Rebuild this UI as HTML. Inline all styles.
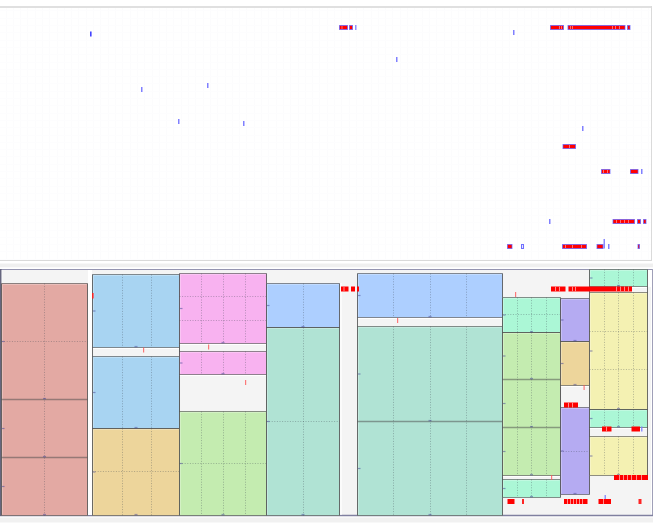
<!DOCTYPE html>
<html><head><meta charset="utf-8"><title>chart</title>
<style>html,body{margin:0;padding:0;background:#fff;width:653px;height:525px;overflow:hidden;font-family:"Liberation Sans",sans-serif} svg{display:block}</style>
</head><body><svg width="653" height="525" viewBox="0 0 653 525"><rect x="0" y="0" width="653" height="525" fill="#ffffff"/><line x1="6.5" y1="8" x2="6.5" y2="260" stroke="#fcfcfd" stroke-width="1"/><line x1="13.5" y1="8" x2="13.5" y2="260" stroke="#fcfcfd" stroke-width="1"/><line x1="20.5" y1="8" x2="20.5" y2="260" stroke="#fcfcfd" stroke-width="1"/><line x1="27.5" y1="8" x2="27.5" y2="260" stroke="#fcfcfd" stroke-width="1"/><line x1="35.5" y1="8" x2="35.5" y2="260" stroke="#fcfcfd" stroke-width="1"/><line x1="42.5" y1="8" x2="42.5" y2="260" stroke="#fcfcfd" stroke-width="1"/><line x1="49.5" y1="8" x2="49.5" y2="260" stroke="#fcfcfd" stroke-width="1"/><line x1="57.5" y1="8" x2="57.5" y2="260" stroke="#fcfcfd" stroke-width="1"/><line x1="64.5" y1="8" x2="64.5" y2="260" stroke="#fcfcfd" stroke-width="1"/><line x1="71.5" y1="8" x2="71.5" y2="260" stroke="#fcfcfd" stroke-width="1"/><line x1="78.5" y1="8" x2="78.5" y2="260" stroke="#fcfcfd" stroke-width="1"/><line x1="86.5" y1="8" x2="86.5" y2="260" stroke="#fcfcfd" stroke-width="1"/><line x1="93.5" y1="8" x2="93.5" y2="260" stroke="#fcfcfd" stroke-width="1"/><line x1="100.5" y1="8" x2="100.5" y2="260" stroke="#fcfcfd" stroke-width="1"/><line x1="108.5" y1="8" x2="108.5" y2="260" stroke="#fcfcfd" stroke-width="1"/><line x1="115.5" y1="8" x2="115.5" y2="260" stroke="#fcfcfd" stroke-width="1"/><line x1="122.5" y1="8" x2="122.5" y2="260" stroke="#fcfcfd" stroke-width="1"/><line x1="130.5" y1="8" x2="130.5" y2="260" stroke="#fcfcfd" stroke-width="1"/><line x1="137.5" y1="8" x2="137.5" y2="260" stroke="#fcfcfd" stroke-width="1"/><line x1="144.5" y1="8" x2="144.5" y2="260" stroke="#fcfcfd" stroke-width="1"/><line x1="152.5" y1="8" x2="152.5" y2="260" stroke="#fcfcfd" stroke-width="1"/><line x1="159.5" y1="8" x2="159.5" y2="260" stroke="#fcfcfd" stroke-width="1"/><line x1="166.5" y1="8" x2="166.5" y2="260" stroke="#fcfcfd" stroke-width="1"/><line x1="173.5" y1="8" x2="173.5" y2="260" stroke="#fcfcfd" stroke-width="1"/><line x1="181.5" y1="8" x2="181.5" y2="260" stroke="#fcfcfd" stroke-width="1"/><line x1="188.5" y1="8" x2="188.5" y2="260" stroke="#fcfcfd" stroke-width="1"/><line x1="195.5" y1="8" x2="195.5" y2="260" stroke="#fcfcfd" stroke-width="1"/><line x1="203.5" y1="8" x2="203.5" y2="260" stroke="#fcfcfd" stroke-width="1"/><line x1="210.5" y1="8" x2="210.5" y2="260" stroke="#fcfcfd" stroke-width="1"/><line x1="217.5" y1="8" x2="217.5" y2="260" stroke="#fcfcfd" stroke-width="1"/><line x1="225.5" y1="8" x2="225.5" y2="260" stroke="#fcfcfd" stroke-width="1"/><line x1="232.5" y1="8" x2="232.5" y2="260" stroke="#fcfcfd" stroke-width="1"/><line x1="239.5" y1="8" x2="239.5" y2="260" stroke="#fcfcfd" stroke-width="1"/><line x1="246.5" y1="8" x2="246.5" y2="260" stroke="#fcfcfd" stroke-width="1"/><line x1="254.5" y1="8" x2="254.5" y2="260" stroke="#fcfcfd" stroke-width="1"/><line x1="261.5" y1="8" x2="261.5" y2="260" stroke="#fcfcfd" stroke-width="1"/><line x1="268.5" y1="8" x2="268.5" y2="260" stroke="#fcfcfd" stroke-width="1"/><line x1="276.5" y1="8" x2="276.5" y2="260" stroke="#fcfcfd" stroke-width="1"/><line x1="283.5" y1="8" x2="283.5" y2="260" stroke="#fcfcfd" stroke-width="1"/><line x1="290.5" y1="8" x2="290.5" y2="260" stroke="#fcfcfd" stroke-width="1"/><line x1="298.5" y1="8" x2="298.5" y2="260" stroke="#fcfcfd" stroke-width="1"/><line x1="305.5" y1="8" x2="305.5" y2="260" stroke="#fcfcfd" stroke-width="1"/><line x1="312.5" y1="8" x2="312.5" y2="260" stroke="#fcfcfd" stroke-width="1"/><line x1="319.5" y1="8" x2="319.5" y2="260" stroke="#fcfcfd" stroke-width="1"/><line x1="327.5" y1="8" x2="327.5" y2="260" stroke="#fcfcfd" stroke-width="1"/><line x1="334.5" y1="8" x2="334.5" y2="260" stroke="#fcfcfd" stroke-width="1"/><line x1="341.5" y1="8" x2="341.5" y2="260" stroke="#fcfcfd" stroke-width="1"/><line x1="349.5" y1="8" x2="349.5" y2="260" stroke="#fcfcfd" stroke-width="1"/><line x1="356.5" y1="8" x2="356.5" y2="260" stroke="#fcfcfd" stroke-width="1"/><line x1="363.5" y1="8" x2="363.5" y2="260" stroke="#fcfcfd" stroke-width="1"/><line x1="371.5" y1="8" x2="371.5" y2="260" stroke="#fcfcfd" stroke-width="1"/><line x1="378.5" y1="8" x2="378.5" y2="260" stroke="#fcfcfd" stroke-width="1"/><line x1="385.5" y1="8" x2="385.5" y2="260" stroke="#fcfcfd" stroke-width="1"/><line x1="392.5" y1="8" x2="392.5" y2="260" stroke="#fcfcfd" stroke-width="1"/><line x1="400.5" y1="8" x2="400.5" y2="260" stroke="#fcfcfd" stroke-width="1"/><line x1="407.5" y1="8" x2="407.5" y2="260" stroke="#fcfcfd" stroke-width="1"/><line x1="414.5" y1="8" x2="414.5" y2="260" stroke="#fcfcfd" stroke-width="1"/><line x1="422.5" y1="8" x2="422.5" y2="260" stroke="#fcfcfd" stroke-width="1"/><line x1="429.5" y1="8" x2="429.5" y2="260" stroke="#fcfcfd" stroke-width="1"/><line x1="436.5" y1="8" x2="436.5" y2="260" stroke="#fcfcfd" stroke-width="1"/><line x1="444.5" y1="8" x2="444.5" y2="260" stroke="#fcfcfd" stroke-width="1"/><line x1="451.5" y1="8" x2="451.5" y2="260" stroke="#fcfcfd" stroke-width="1"/><line x1="458.5" y1="8" x2="458.5" y2="260" stroke="#fcfcfd" stroke-width="1"/><line x1="465.5" y1="8" x2="465.5" y2="260" stroke="#fcfcfd" stroke-width="1"/><line x1="473.5" y1="8" x2="473.5" y2="260" stroke="#fcfcfd" stroke-width="1"/><line x1="480.5" y1="8" x2="480.5" y2="260" stroke="#fcfcfd" stroke-width="1"/><line x1="487.5" y1="8" x2="487.5" y2="260" stroke="#fcfcfd" stroke-width="1"/><line x1="495.5" y1="8" x2="495.5" y2="260" stroke="#fcfcfd" stroke-width="1"/><line x1="502.5" y1="8" x2="502.5" y2="260" stroke="#fcfcfd" stroke-width="1"/><line x1="509.5" y1="8" x2="509.5" y2="260" stroke="#fcfcfd" stroke-width="1"/><line x1="517.5" y1="8" x2="517.5" y2="260" stroke="#fcfcfd" stroke-width="1"/><line x1="524.5" y1="8" x2="524.5" y2="260" stroke="#fcfcfd" stroke-width="1"/><line x1="531.5" y1="8" x2="531.5" y2="260" stroke="#fcfcfd" stroke-width="1"/><line x1="538.5" y1="8" x2="538.5" y2="260" stroke="#fcfcfd" stroke-width="1"/><line x1="546.5" y1="8" x2="546.5" y2="260" stroke="#fcfcfd" stroke-width="1"/><line x1="553.5" y1="8" x2="553.5" y2="260" stroke="#fcfcfd" stroke-width="1"/><line x1="560.5" y1="8" x2="560.5" y2="260" stroke="#fcfcfd" stroke-width="1"/><line x1="568.5" y1="8" x2="568.5" y2="260" stroke="#fcfcfd" stroke-width="1"/><line x1="575.5" y1="8" x2="575.5" y2="260" stroke="#fcfcfd" stroke-width="1"/><line x1="582.5" y1="8" x2="582.5" y2="260" stroke="#fcfcfd" stroke-width="1"/><line x1="590.5" y1="8" x2="590.5" y2="260" stroke="#fcfcfd" stroke-width="1"/><line x1="597.5" y1="8" x2="597.5" y2="260" stroke="#fcfcfd" stroke-width="1"/><line x1="604.5" y1="8" x2="604.5" y2="260" stroke="#fcfcfd" stroke-width="1"/><line x1="611.5" y1="8" x2="611.5" y2="260" stroke="#fcfcfd" stroke-width="1"/><line x1="619.5" y1="8" x2="619.5" y2="260" stroke="#fcfcfd" stroke-width="1"/><line x1="626.5" y1="8" x2="626.5" y2="260" stroke="#fcfcfd" stroke-width="1"/><line x1="633.5" y1="8" x2="633.5" y2="260" stroke="#fcfcfd" stroke-width="1"/><line x1="641.5" y1="8" x2="641.5" y2="260" stroke="#fcfcfd" stroke-width="1"/><line x1="648.5" y1="8" x2="648.5" y2="260" stroke="#fcfcfd" stroke-width="1"/><line x1="0" y1="10.5" x2="651" y2="10.5" stroke="#fdfdfe" stroke-width="1"/><line x1="0" y1="18.5" x2="651" y2="18.5" stroke="#fdfdfe" stroke-width="1"/><line x1="0" y1="25.5" x2="651" y2="25.5" stroke="#fdfdfe" stroke-width="1"/><line x1="0" y1="32.5" x2="651" y2="32.5" stroke="#fdfdfe" stroke-width="1"/><line x1="0" y1="40.5" x2="651" y2="40.5" stroke="#fdfdfe" stroke-width="1"/><line x1="0" y1="47.5" x2="651" y2="47.5" stroke="#fdfdfe" stroke-width="1"/><line x1="0" y1="54.5" x2="651" y2="54.5" stroke="#fdfdfe" stroke-width="1"/><line x1="0" y1="62.5" x2="651" y2="62.5" stroke="#fdfdfe" stroke-width="1"/><line x1="0" y1="69.5" x2="651" y2="69.5" stroke="#fdfdfe" stroke-width="1"/><line x1="0" y1="76.5" x2="651" y2="76.5" stroke="#fdfdfe" stroke-width="1"/><line x1="0" y1="83.5" x2="651" y2="83.5" stroke="#fdfdfe" stroke-width="1"/><line x1="0" y1="91.5" x2="651" y2="91.5" stroke="#fdfdfe" stroke-width="1"/><line x1="0" y1="98.5" x2="651" y2="98.5" stroke="#fdfdfe" stroke-width="1"/><line x1="0" y1="105.5" x2="651" y2="105.5" stroke="#fdfdfe" stroke-width="1"/><line x1="0" y1="113.5" x2="651" y2="113.5" stroke="#fdfdfe" stroke-width="1"/><line x1="0" y1="120.5" x2="651" y2="120.5" stroke="#fdfdfe" stroke-width="1"/><line x1="0" y1="127.5" x2="651" y2="127.5" stroke="#fdfdfe" stroke-width="1"/><line x1="0" y1="135.5" x2="651" y2="135.5" stroke="#fdfdfe" stroke-width="1"/><line x1="0" y1="142.5" x2="651" y2="142.5" stroke="#fdfdfe" stroke-width="1"/><line x1="0" y1="149.5" x2="651" y2="149.5" stroke="#fdfdfe" stroke-width="1"/><line x1="0" y1="156.5" x2="651" y2="156.5" stroke="#fdfdfe" stroke-width="1"/><line x1="0" y1="164.5" x2="651" y2="164.5" stroke="#fdfdfe" stroke-width="1"/><line x1="0" y1="171.5" x2="651" y2="171.5" stroke="#fdfdfe" stroke-width="1"/><line x1="0" y1="178.5" x2="651" y2="178.5" stroke="#fdfdfe" stroke-width="1"/><line x1="0" y1="186.5" x2="651" y2="186.5" stroke="#fdfdfe" stroke-width="1"/><line x1="0" y1="193.5" x2="651" y2="193.5" stroke="#fdfdfe" stroke-width="1"/><line x1="0" y1="200.5" x2="651" y2="200.5" stroke="#fdfdfe" stroke-width="1"/><line x1="0" y1="208.5" x2="651" y2="208.5" stroke="#fdfdfe" stroke-width="1"/><line x1="0" y1="215.5" x2="651" y2="215.5" stroke="#fdfdfe" stroke-width="1"/><line x1="0" y1="222.5" x2="651" y2="222.5" stroke="#fdfdfe" stroke-width="1"/><line x1="0" y1="230.5" x2="651" y2="230.5" stroke="#fdfdfe" stroke-width="1"/><line x1="0" y1="237.5" x2="651" y2="237.5" stroke="#fdfdfe" stroke-width="1"/><line x1="0" y1="244.5" x2="651" y2="244.5" stroke="#fdfdfe" stroke-width="1"/><line x1="0" y1="251.5" x2="651" y2="251.5" stroke="#fdfdfe" stroke-width="1"/><line x1="0" y1="259.5" x2="651" y2="259.5" stroke="#fdfdfe" stroke-width="1"/><line x1="0" y1="7" x2="652" y2="7" stroke="#e0e0e0" stroke-width="2"/><line x1="651.5" y1="6" x2="651.5" y2="261" stroke="#dadada" stroke-width="1"/><line x1="0" y1="260.5" x2="652" y2="260.5" stroke="#d9d9d9" stroke-width="1"/><rect x="0" y="263.5" width="653" height="4.0" fill="#efefef"/><line x1="0" y1="267.5" x2="653" y2="267.5" stroke="#fafafa" stroke-width="1"/><rect x="0" y="269" width="652" height="247" fill="#f4f4f4"/><line x1="0" y1="269.5" x2="653" y2="269.5" stroke="#9494b0" stroke-width="1"/><line x1="652.5" y1="269" x2="652.5" y2="516" stroke="#a0a0b8" stroke-width="1"/><line x1="651.5" y1="270" x2="651.5" y2="515" stroke="#ffffff" stroke-width="1"/><line x1="0" y1="515.5" x2="653" y2="515.5" stroke="#8080a0" stroke-width="1.4"/><line x1="0.8" y1="269" x2="0.8" y2="516" stroke="#66667e" stroke-width="1.6"/><line x1="2" y1="270" x2="2" y2="515" stroke="#ffffff" stroke-width="0.8" stroke-opacity="0.6"/><rect x="0" y="517.5" width="653" height="5.0" fill="#f1f1f1"/><rect x="88" y="270" width="4" height="245" fill="#ffffff"/><rect x="340" y="283" width="2" height="232" fill="#ffffff" fill-opacity="0.6"/><rect x="1.5" y="283.5" width="86.0" height="232.0" fill="#f4f4f4"/><rect x="1.5" y="283.5" width="86.0" height="232.0" fill="#e3a9a3"/><line x1="2.5" y1="284.5" x2="86.5" y2="284.5" stroke="#ffffff" stroke-width="1" stroke-opacity="0.25"/><line x1="2.5" y1="284.5" x2="2.5" y2="514.5" stroke="#ffffff" stroke-width="1" stroke-opacity="0.25"/><line x1="44.5" y1="283.5" x2="44.5" y2="515.5" stroke="#3c4650" stroke-width="1" stroke-dasharray="1,1.6" stroke-opacity="0.35"/><line x1="1.5" y1="341.5" x2="87.5" y2="341.5" stroke="#3c4650" stroke-width="1" stroke-dasharray="1,1.6" stroke-opacity="0.35"/><line x1="1.5" y1="399.5" x2="87.5" y2="399.5" stroke="#4a4a4a" stroke-width="1.4" stroke-opacity="0.5"/><line x1="1.5" y1="457.5" x2="87.5" y2="457.5" stroke="#4a4a4a" stroke-width="1.4" stroke-opacity="0.5"/><line x1="1.5" y1="283.5" x2="87.5" y2="283.5" stroke="#4a4a4a" stroke-width="1" stroke-opacity="0.6"/><line x1="1.5" y1="515.5" x2="87.5" y2="515.5" stroke="#4a4a4a" stroke-width="1" stroke-opacity="0.6"/><rect x="2.0" y="340.9" width="2.5" height="1.2" fill="#4a4a9a" fill-opacity="0.55"/><rect x="43.0" y="397.9" width="3.0" height="1.4" fill="#4a4a9a" fill-opacity="0.5"/><rect x="2.0" y="427.9" width="2.5" height="1.2" fill="#4a4a9a" fill-opacity="0.55"/><rect x="43.0" y="455.9" width="3.0" height="1.4" fill="#4a4a9a" fill-opacity="0.5"/><rect x="2.0" y="485.9" width="2.5" height="1.2" fill="#4a4a9a" fill-opacity="0.55"/><rect x="43.0" y="513.9" width="3.0" height="1.4" fill="#4a4a9a" fill-opacity="0.5"/><line x1="1.5" y1="283.5" x2="1.5" y2="515.5" stroke="#4a4a4a" stroke-width="1" stroke-opacity="0.8"/><line x1="87.5" y1="283.5" x2="87.5" y2="515.5" stroke="#4a4a4a" stroke-width="1" stroke-opacity="0.8"/><rect x="92.5" y="274.5" width="87.0" height="241.0" fill="#f4f4f4"/><line x1="92.5" y1="348.5" x2="179.5" y2="348.5" stroke="#ffffff" stroke-width="1"/><rect x="92.5" y="274.5" width="87.0" height="73.0" fill="#a8d4f2"/><line x1="93.5" y1="275.5" x2="178.5" y2="275.5" stroke="#ffffff" stroke-width="1" stroke-opacity="0.25"/><line x1="93.5" y1="275.5" x2="93.5" y2="346.5" stroke="#ffffff" stroke-width="1" stroke-opacity="0.25"/><line x1="122.5" y1="274.5" x2="122.5" y2="347.5" stroke="#3c4650" stroke-width="1" stroke-dasharray="1,1.6" stroke-opacity="0.35"/><line x1="151.5" y1="274.5" x2="151.5" y2="347.5" stroke="#3c4650" stroke-width="1" stroke-dasharray="1,1.6" stroke-opacity="0.35"/><rect x="92.5" y="356.5" width="87.0" height="72.0" fill="#a8d4f2"/><line x1="93.5" y1="357.5" x2="178.5" y2="357.5" stroke="#ffffff" stroke-width="1" stroke-opacity="0.25"/><line x1="93.5" y1="357.5" x2="93.5" y2="427.5" stroke="#ffffff" stroke-width="1" stroke-opacity="0.25"/><line x1="122.5" y1="356.5" x2="122.5" y2="428.5" stroke="#3c4650" stroke-width="1" stroke-dasharray="1,1.6" stroke-opacity="0.35"/><line x1="151.5" y1="356.5" x2="151.5" y2="428.5" stroke="#3c4650" stroke-width="1" stroke-dasharray="1,1.6" stroke-opacity="0.35"/><rect x="92.5" y="428.5" width="87.0" height="87.0" fill="#edd59b"/><line x1="93.5" y1="429.5" x2="178.5" y2="429.5" stroke="#ffffff" stroke-width="1" stroke-opacity="0.25"/><line x1="93.5" y1="429.5" x2="93.5" y2="514.5" stroke="#ffffff" stroke-width="1" stroke-opacity="0.25"/><line x1="122.5" y1="428.5" x2="122.5" y2="515.5" stroke="#3c4650" stroke-width="1" stroke-dasharray="1,1.6" stroke-opacity="0.35"/><line x1="151.5" y1="428.5" x2="151.5" y2="515.5" stroke="#3c4650" stroke-width="1" stroke-dasharray="1,1.6" stroke-opacity="0.35"/><line x1="92.5" y1="471.5" x2="179.5" y2="471.5" stroke="#3c4650" stroke-width="1" stroke-dasharray="1,1.6" stroke-opacity="0.35"/><line x1="92.5" y1="274.5" x2="179.5" y2="274.5" stroke="#4a4a4a" stroke-width="1" stroke-opacity="0.6"/><line x1="92.5" y1="347.5" x2="179.5" y2="347.5" stroke="#4a4a4a" stroke-width="1" stroke-opacity="0.6"/><line x1="92.5" y1="356.5" x2="179.5" y2="356.5" stroke="#4a4a4a" stroke-width="1" stroke-opacity="0.6"/><line x1="92.5" y1="428.5" x2="179.5" y2="428.5" stroke="#4a4a4a" stroke-width="1" stroke-opacity="0.6"/><line x1="92.5" y1="428.5" x2="179.5" y2="428.5" stroke="#4a4a4a" stroke-width="1" stroke-opacity="0.6"/><line x1="92.5" y1="515.5" x2="179.5" y2="515.5" stroke="#4a4a4a" stroke-width="1" stroke-opacity="0.6"/><rect x="93.0" y="310.4" width="2.5" height="1.2" fill="#4a4a9a" fill-opacity="0.55"/><rect x="134.5" y="345.9" width="3.0" height="1.4" fill="#4a4a9a" fill-opacity="0.5"/><rect x="93.0" y="391.9" width="2.5" height="1.2" fill="#4a4a9a" fill-opacity="0.55"/><rect x="134.5" y="426.9" width="3.0" height="1.4" fill="#4a4a9a" fill-opacity="0.5"/><rect x="93.0" y="471.4" width="2.5" height="1.2" fill="#4a4a9a" fill-opacity="0.55"/><rect x="134.5" y="513.9" width="3.0" height="1.4" fill="#4a4a9a" fill-opacity="0.5"/><line x1="92.5" y1="274.5" x2="92.5" y2="515.5" stroke="#4a4a4a" stroke-width="1" stroke-opacity="0.8"/><line x1="179.5" y1="274.5" x2="179.5" y2="515.5" stroke="#4a4a4a" stroke-width="1" stroke-opacity="0.8"/><rect x="179.5" y="273.5" width="87.0" height="242.0" fill="#f4f4f4"/><line x1="179.5" y1="344.5" x2="266.5" y2="344.5" stroke="#ffffff" stroke-width="1"/><line x1="179.5" y1="375.5" x2="266.5" y2="375.5" stroke="#ffffff" stroke-width="1"/><rect x="179.5" y="273.5" width="87.0" height="70.0" fill="#f8b2f0"/><line x1="180.5" y1="274.5" x2="265.5" y2="274.5" stroke="#ffffff" stroke-width="1" stroke-opacity="0.25"/><line x1="180.5" y1="274.5" x2="180.5" y2="342.5" stroke="#ffffff" stroke-width="1" stroke-opacity="0.25"/><line x1="201.5" y1="273.5" x2="201.5" y2="343.5" stroke="#3c4650" stroke-width="1" stroke-dasharray="1,1.6" stroke-opacity="0.35"/><line x1="223.5" y1="273.5" x2="223.5" y2="343.5" stroke="#3c4650" stroke-width="1" stroke-dasharray="1,1.6" stroke-opacity="0.35"/><line x1="245.5" y1="273.5" x2="245.5" y2="343.5" stroke="#3c4650" stroke-width="1" stroke-dasharray="1,1.6" stroke-opacity="0.35"/><line x1="179.5" y1="296.5" x2="266.5" y2="296.5" stroke="#3c4650" stroke-width="1" stroke-dasharray="1,1.6" stroke-opacity="0.35"/><line x1="179.5" y1="320.5" x2="266.5" y2="320.5" stroke="#3c4650" stroke-width="1" stroke-dasharray="1,1.6" stroke-opacity="0.35"/><rect x="179.5" y="351.5" width="87.0" height="23.0" fill="#f8b2f0"/><line x1="180.5" y1="352.5" x2="265.5" y2="352.5" stroke="#ffffff" stroke-width="1" stroke-opacity="0.25"/><line x1="180.5" y1="352.5" x2="180.5" y2="373.5" stroke="#ffffff" stroke-width="1" stroke-opacity="0.25"/><line x1="201.5" y1="351.5" x2="201.5" y2="374.5" stroke="#3c4650" stroke-width="1" stroke-dasharray="1,1.6" stroke-opacity="0.35"/><line x1="223.5" y1="351.5" x2="223.5" y2="374.5" stroke="#3c4650" stroke-width="1" stroke-dasharray="1,1.6" stroke-opacity="0.35"/><line x1="245.5" y1="351.5" x2="245.5" y2="374.5" stroke="#3c4650" stroke-width="1" stroke-dasharray="1,1.6" stroke-opacity="0.35"/><rect x="179.5" y="411.5" width="87.0" height="104.0" fill="#c4ecb0"/><line x1="180.5" y1="412.5" x2="265.5" y2="412.5" stroke="#ffffff" stroke-width="1" stroke-opacity="0.25"/><line x1="180.5" y1="412.5" x2="180.5" y2="514.5" stroke="#ffffff" stroke-width="1" stroke-opacity="0.25"/><line x1="201.5" y1="411.5" x2="201.5" y2="515.5" stroke="#3c4650" stroke-width="1" stroke-dasharray="1,1.6" stroke-opacity="0.35"/><line x1="223.5" y1="411.5" x2="223.5" y2="515.5" stroke="#3c4650" stroke-width="1" stroke-dasharray="1,1.6" stroke-opacity="0.35"/><line x1="245.5" y1="411.5" x2="245.5" y2="515.5" stroke="#3c4650" stroke-width="1" stroke-dasharray="1,1.6" stroke-opacity="0.35"/><line x1="179.5" y1="463.5" x2="266.5" y2="463.5" stroke="#3c4650" stroke-width="1" stroke-dasharray="1,1.6" stroke-opacity="0.35"/><line x1="179.5" y1="273.5" x2="266.5" y2="273.5" stroke="#4a4a4a" stroke-width="1" stroke-opacity="0.6"/><line x1="179.5" y1="343.5" x2="266.5" y2="343.5" stroke="#4a4a4a" stroke-width="1" stroke-opacity="0.6"/><line x1="179.5" y1="351.5" x2="266.5" y2="351.5" stroke="#4a4a4a" stroke-width="1" stroke-opacity="0.6"/><line x1="179.5" y1="374.5" x2="266.5" y2="374.5" stroke="#4a4a4a" stroke-width="1" stroke-opacity="0.6"/><line x1="179.5" y1="411.5" x2="266.5" y2="411.5" stroke="#4a4a4a" stroke-width="1" stroke-opacity="0.6"/><line x1="179.5" y1="515.5" x2="266.5" y2="515.5" stroke="#4a4a4a" stroke-width="1" stroke-opacity="0.6"/><rect x="180.0" y="307.9" width="2.5" height="1.2" fill="#4a4a9a" fill-opacity="0.55"/><rect x="221.5" y="341.9" width="3.0" height="1.4" fill="#4a4a9a" fill-opacity="0.5"/><rect x="180.0" y="362.4" width="2.5" height="1.2" fill="#4a4a9a" fill-opacity="0.55"/><rect x="221.5" y="372.9" width="3.0" height="1.4" fill="#4a4a9a" fill-opacity="0.5"/><rect x="180.0" y="462.9" width="2.5" height="1.2" fill="#4a4a9a" fill-opacity="0.55"/><rect x="221.5" y="513.9" width="3.0" height="1.4" fill="#4a4a9a" fill-opacity="0.5"/><line x1="179.5" y1="273.5" x2="179.5" y2="515.5" stroke="#4a4a4a" stroke-width="1" stroke-opacity="0.8"/><line x1="266.5" y1="273.5" x2="266.5" y2="515.5" stroke="#4a4a4a" stroke-width="1" stroke-opacity="0.8"/><rect x="266.5" y="283.5" width="73.0" height="232.0" fill="#f4f4f4"/><rect x="266.5" y="283.5" width="73.0" height="44.0" fill="#adcfff"/><line x1="267.5" y1="284.5" x2="338.5" y2="284.5" stroke="#ffffff" stroke-width="1" stroke-opacity="0.25"/><line x1="267.5" y1="284.5" x2="267.5" y2="326.5" stroke="#ffffff" stroke-width="1" stroke-opacity="0.25"/><line x1="303.5" y1="283.5" x2="303.5" y2="327.5" stroke="#3c4650" stroke-width="1" stroke-dasharray="1,1.6" stroke-opacity="0.35"/><rect x="266.5" y="327.5" width="73.0" height="188.0" fill="#b0e3d4"/><line x1="267.5" y1="328.5" x2="338.5" y2="328.5" stroke="#ffffff" stroke-width="1" stroke-opacity="0.25"/><line x1="267.5" y1="328.5" x2="267.5" y2="514.5" stroke="#ffffff" stroke-width="1" stroke-opacity="0.25"/><line x1="303.5" y1="327.5" x2="303.5" y2="515.5" stroke="#3c4650" stroke-width="1" stroke-dasharray="1,1.6" stroke-opacity="0.35"/><line x1="266.5" y1="421.5" x2="339.5" y2="421.5" stroke="#3c4650" stroke-width="1" stroke-dasharray="1,1.6" stroke-opacity="0.35"/><line x1="266.5" y1="283.5" x2="339.5" y2="283.5" stroke="#4a4a4a" stroke-width="1" stroke-opacity="0.6"/><line x1="266.5" y1="327.5" x2="339.5" y2="327.5" stroke="#4a4a4a" stroke-width="1" stroke-opacity="0.6"/><line x1="266.5" y1="327.5" x2="339.5" y2="327.5" stroke="#4a4a4a" stroke-width="1" stroke-opacity="0.6"/><line x1="266.5" y1="515.5" x2="339.5" y2="515.5" stroke="#4a4a4a" stroke-width="1" stroke-opacity="0.6"/><rect x="267.0" y="304.9" width="2.5" height="1.2" fill="#4a4a9a" fill-opacity="0.55"/><rect x="301.5" y="325.9" width="3.0" height="1.4" fill="#4a4a9a" fill-opacity="0.5"/><rect x="267.0" y="420.9" width="2.5" height="1.2" fill="#4a4a9a" fill-opacity="0.55"/><rect x="301.5" y="513.9" width="3.0" height="1.4" fill="#4a4a9a" fill-opacity="0.5"/><line x1="266.5" y1="283.5" x2="266.5" y2="515.5" stroke="#4a4a4a" stroke-width="1" stroke-opacity="0.8"/><line x1="339.5" y1="283.5" x2="339.5" y2="515.5" stroke="#4a4a4a" stroke-width="1" stroke-opacity="0.8"/><rect x="357.5" y="273.5" width="145.0" height="242.0" fill="#f4f4f4"/><line x1="357.5" y1="318.5" x2="502.5" y2="318.5" stroke="#ffffff" stroke-width="1"/><rect x="357.5" y="273.5" width="145.0" height="44.0" fill="#adcfff"/><line x1="358.5" y1="274.5" x2="501.5" y2="274.5" stroke="#ffffff" stroke-width="1" stroke-opacity="0.25"/><line x1="358.5" y1="274.5" x2="358.5" y2="316.5" stroke="#ffffff" stroke-width="1" stroke-opacity="0.25"/><line x1="393.5" y1="273.5" x2="393.5" y2="317.5" stroke="#3c4650" stroke-width="1" stroke-dasharray="1,1.6" stroke-opacity="0.35"/><line x1="430.5" y1="273.5" x2="430.5" y2="317.5" stroke="#3c4650" stroke-width="1" stroke-dasharray="1,1.6" stroke-opacity="0.35"/><line x1="466.5" y1="273.5" x2="466.5" y2="317.5" stroke="#3c4650" stroke-width="1" stroke-dasharray="1,1.6" stroke-opacity="0.35"/><rect x="357.5" y="326.5" width="145.0" height="189.0" fill="#b0e3d4"/><line x1="358.5" y1="327.5" x2="501.5" y2="327.5" stroke="#ffffff" stroke-width="1" stroke-opacity="0.25"/><line x1="358.5" y1="327.5" x2="358.5" y2="514.5" stroke="#ffffff" stroke-width="1" stroke-opacity="0.25"/><line x1="393.5" y1="326.5" x2="393.5" y2="515.5" stroke="#3c4650" stroke-width="1" stroke-dasharray="1,1.6" stroke-opacity="0.35"/><line x1="430.5" y1="326.5" x2="430.5" y2="515.5" stroke="#3c4650" stroke-width="1" stroke-dasharray="1,1.6" stroke-opacity="0.35"/><line x1="466.5" y1="326.5" x2="466.5" y2="515.5" stroke="#3c4650" stroke-width="1" stroke-dasharray="1,1.6" stroke-opacity="0.35"/><line x1="357.5" y1="421.5" x2="502.5" y2="421.5" stroke="#4a4a4a" stroke-width="1.4" stroke-opacity="0.5"/><line x1="357.5" y1="273.5" x2="502.5" y2="273.5" stroke="#4a4a4a" stroke-width="1" stroke-opacity="0.6"/><line x1="357.5" y1="317.5" x2="502.5" y2="317.5" stroke="#4a4a4a" stroke-width="1" stroke-opacity="0.6"/><line x1="357.5" y1="326.5" x2="502.5" y2="326.5" stroke="#4a4a4a" stroke-width="1" stroke-opacity="0.6"/><line x1="357.5" y1="515.5" x2="502.5" y2="515.5" stroke="#4a4a4a" stroke-width="1" stroke-opacity="0.6"/><rect x="358.0" y="294.9" width="2.5" height="1.2" fill="#4a4a9a" fill-opacity="0.55"/><rect x="428.5" y="315.9" width="3.0" height="1.4" fill="#4a4a9a" fill-opacity="0.5"/><rect x="358.0" y="373.4" width="2.5" height="1.2" fill="#4a4a9a" fill-opacity="0.55"/><rect x="428.5" y="419.9" width="3.0" height="1.4" fill="#4a4a9a" fill-opacity="0.5"/><rect x="358.0" y="467.9" width="2.5" height="1.2" fill="#4a4a9a" fill-opacity="0.55"/><rect x="428.5" y="513.9" width="3.0" height="1.4" fill="#4a4a9a" fill-opacity="0.5"/><line x1="357.5" y1="273.5" x2="357.5" y2="515.5" stroke="#4a4a4a" stroke-width="1" stroke-opacity="0.8"/><line x1="502.5" y1="273.5" x2="502.5" y2="515.5" stroke="#4a4a4a" stroke-width="1" stroke-opacity="0.8"/><rect x="502.5" y="297.5" width="58.0" height="200.0" fill="#f4f4f4"/><line x1="502.5" y1="476.5" x2="560.5" y2="476.5" stroke="#ffffff" stroke-width="1"/><rect x="502.5" y="297.5" width="58.0" height="35.0" fill="#abf7d6"/><line x1="503.5" y1="298.5" x2="559.5" y2="298.5" stroke="#ffffff" stroke-width="1" stroke-opacity="0.25"/><line x1="503.5" y1="298.5" x2="503.5" y2="331.5" stroke="#ffffff" stroke-width="1" stroke-opacity="0.25"/><line x1="517.5" y1="297.5" x2="517.5" y2="332.5" stroke="#3c4650" stroke-width="1" stroke-dasharray="1,1.6" stroke-opacity="0.35"/><line x1="531.5" y1="297.5" x2="531.5" y2="332.5" stroke="#3c4650" stroke-width="1" stroke-dasharray="1,1.6" stroke-opacity="0.35"/><line x1="546.5" y1="297.5" x2="546.5" y2="332.5" stroke="#3c4650" stroke-width="1" stroke-dasharray="1,1.6" stroke-opacity="0.35"/><line x1="502.5" y1="314.5" x2="560.5" y2="314.5" stroke="#3c4650" stroke-width="1" stroke-dasharray="1,1.6" stroke-opacity="0.35"/><rect x="502.5" y="332.5" width="58.0" height="143.0" fill="#c4ecb0"/><line x1="503.5" y1="333.5" x2="559.5" y2="333.5" stroke="#ffffff" stroke-width="1" stroke-opacity="0.25"/><line x1="503.5" y1="333.5" x2="503.5" y2="474.5" stroke="#ffffff" stroke-width="1" stroke-opacity="0.25"/><line x1="517.5" y1="332.5" x2="517.5" y2="475.5" stroke="#3c4650" stroke-width="1" stroke-dasharray="1,1.6" stroke-opacity="0.35"/><line x1="531.5" y1="332.5" x2="531.5" y2="475.5" stroke="#3c4650" stroke-width="1" stroke-dasharray="1,1.6" stroke-opacity="0.35"/><line x1="546.5" y1="332.5" x2="546.5" y2="475.5" stroke="#3c4650" stroke-width="1" stroke-dasharray="1,1.6" stroke-opacity="0.35"/><line x1="502.5" y1="379.5" x2="560.5" y2="379.5" stroke="#4a4a4a" stroke-width="1.4" stroke-opacity="0.5"/><line x1="502.5" y1="427.5" x2="560.5" y2="427.5" stroke="#4a4a4a" stroke-width="1.4" stroke-opacity="0.5"/><rect x="502.5" y="479.5" width="58.0" height="18.0" fill="#abf7d6"/><line x1="503.5" y1="480.5" x2="559.5" y2="480.5" stroke="#ffffff" stroke-width="1" stroke-opacity="0.25"/><line x1="503.5" y1="480.5" x2="503.5" y2="496.5" stroke="#ffffff" stroke-width="1" stroke-opacity="0.25"/><line x1="517.5" y1="479.5" x2="517.5" y2="497.5" stroke="#3c4650" stroke-width="1" stroke-dasharray="1,1.6" stroke-opacity="0.35"/><line x1="531.5" y1="479.5" x2="531.5" y2="497.5" stroke="#3c4650" stroke-width="1" stroke-dasharray="1,1.6" stroke-opacity="0.35"/><line x1="546.5" y1="479.5" x2="546.5" y2="497.5" stroke="#3c4650" stroke-width="1" stroke-dasharray="1,1.6" stroke-opacity="0.35"/><line x1="502.5" y1="297.5" x2="560.5" y2="297.5" stroke="#4a4a4a" stroke-width="1" stroke-opacity="0.6"/><line x1="502.5" y1="332.5" x2="560.5" y2="332.5" stroke="#4a4a4a" stroke-width="1" stroke-opacity="0.6"/><line x1="502.5" y1="332.5" x2="560.5" y2="332.5" stroke="#4a4a4a" stroke-width="1" stroke-opacity="0.6"/><line x1="502.5" y1="475.5" x2="560.5" y2="475.5" stroke="#4a4a4a" stroke-width="1" stroke-opacity="0.6"/><line x1="502.5" y1="479.5" x2="560.5" y2="479.5" stroke="#4a4a4a" stroke-width="1" stroke-opacity="0.6"/><line x1="502.5" y1="497.5" x2="560.5" y2="497.5" stroke="#4a4a4a" stroke-width="1" stroke-opacity="0.6"/><rect x="503.0" y="314.4" width="2.5" height="1.2" fill="#4a4a9a" fill-opacity="0.55"/><rect x="530.0" y="330.9" width="3.0" height="1.4" fill="#4a4a9a" fill-opacity="0.5"/><rect x="503.0" y="355.4" width="2.5" height="1.2" fill="#4a4a9a" fill-opacity="0.55"/><rect x="530.0" y="377.9" width="3.0" height="1.4" fill="#4a4a9a" fill-opacity="0.5"/><rect x="503.0" y="402.9" width="2.5" height="1.2" fill="#4a4a9a" fill-opacity="0.55"/><rect x="530.0" y="425.9" width="3.0" height="1.4" fill="#4a4a9a" fill-opacity="0.5"/><rect x="503.0" y="450.9" width="2.5" height="1.2" fill="#4a4a9a" fill-opacity="0.55"/><rect x="530.0" y="473.9" width="3.0" height="1.4" fill="#4a4a9a" fill-opacity="0.5"/><rect x="503.0" y="487.9" width="2.5" height="1.2" fill="#4a4a9a" fill-opacity="0.55"/><rect x="530.0" y="495.9" width="3.0" height="1.4" fill="#4a4a9a" fill-opacity="0.5"/><line x1="502.5" y1="297.5" x2="502.5" y2="497.5" stroke="#4a4a4a" stroke-width="1" stroke-opacity="0.8"/><line x1="560.5" y1="297.5" x2="560.5" y2="497.5" stroke="#4a4a4a" stroke-width="1" stroke-opacity="0.8"/><rect x="560.5" y="298.5" width="29.0" height="196.0" fill="#f4f4f4"/><line x1="560.5" y1="386.5" x2="589.5" y2="386.5" stroke="#ffffff" stroke-width="1"/><rect x="560.5" y="298.5" width="29.0" height="43.0" fill="#b5abf2"/><line x1="561.5" y1="299.5" x2="588.5" y2="299.5" stroke="#ffffff" stroke-width="1" stroke-opacity="0.25"/><line x1="561.5" y1="299.5" x2="561.5" y2="340.5" stroke="#ffffff" stroke-width="1" stroke-opacity="0.25"/><rect x="560.5" y="341.5" width="29.0" height="44.0" fill="#edd59b"/><line x1="561.5" y1="342.5" x2="588.5" y2="342.5" stroke="#ffffff" stroke-width="1" stroke-opacity="0.25"/><line x1="561.5" y1="342.5" x2="561.5" y2="384.5" stroke="#ffffff" stroke-width="1" stroke-opacity="0.25"/><rect x="560.5" y="407.5" width="29.0" height="87.0" fill="#b5abf2"/><line x1="561.5" y1="408.5" x2="588.5" y2="408.5" stroke="#ffffff" stroke-width="1" stroke-opacity="0.25"/><line x1="561.5" y1="408.5" x2="561.5" y2="493.5" stroke="#ffffff" stroke-width="1" stroke-opacity="0.25"/><line x1="560.5" y1="451.5" x2="589.5" y2="451.5" stroke="#3c4650" stroke-width="1" stroke-dasharray="1,1.6" stroke-opacity="0.35"/><line x1="560.5" y1="298.5" x2="589.5" y2="298.5" stroke="#4a4a4a" stroke-width="1" stroke-opacity="0.6"/><line x1="560.5" y1="341.5" x2="589.5" y2="341.5" stroke="#4a4a4a" stroke-width="1" stroke-opacity="0.6"/><line x1="560.5" y1="341.5" x2="589.5" y2="341.5" stroke="#4a4a4a" stroke-width="1" stroke-opacity="0.6"/><line x1="560.5" y1="385.5" x2="589.5" y2="385.5" stroke="#4a4a4a" stroke-width="1" stroke-opacity="0.6"/><line x1="560.5" y1="407.5" x2="589.5" y2="407.5" stroke="#4a4a4a" stroke-width="1" stroke-opacity="0.6"/><line x1="560.5" y1="494.5" x2="589.5" y2="494.5" stroke="#4a4a4a" stroke-width="1" stroke-opacity="0.6"/><rect x="561.0" y="319.4" width="2.5" height="1.2" fill="#4a4a9a" fill-opacity="0.55"/><rect x="573.5" y="339.9" width="3.0" height="1.4" fill="#4a4a9a" fill-opacity="0.5"/><rect x="561.0" y="362.9" width="2.5" height="1.2" fill="#4a4a9a" fill-opacity="0.55"/><rect x="573.5" y="383.9" width="3.0" height="1.4" fill="#4a4a9a" fill-opacity="0.5"/><rect x="561.0" y="450.4" width="2.5" height="1.2" fill="#4a4a9a" fill-opacity="0.55"/><rect x="573.5" y="492.9" width="3.0" height="1.4" fill="#4a4a9a" fill-opacity="0.5"/><line x1="560.5" y1="298.5" x2="560.5" y2="494.5" stroke="#4a4a4a" stroke-width="1" stroke-opacity="0.8"/><line x1="589.5" y1="298.5" x2="589.5" y2="494.5" stroke="#4a4a4a" stroke-width="1" stroke-opacity="0.8"/><rect x="648" y="270" width="3" height="17" fill="#ffffff"/><rect x="589.5" y="269.5" width="58.0" height="206.0" fill="#f4f4f4"/><line x1="589.5" y1="287.5" x2="647.5" y2="287.5" stroke="#ffffff" stroke-width="1"/><line x1="589.5" y1="428.5" x2="647.5" y2="428.5" stroke="#ffffff" stroke-width="1"/><rect x="589.5" y="269.5" width="58.0" height="17.0" fill="#abf7d6"/><line x1="590.5" y1="270.5" x2="646.5" y2="270.5" stroke="#ffffff" stroke-width="1" stroke-opacity="0.25"/><line x1="590.5" y1="270.5" x2="590.5" y2="285.5" stroke="#ffffff" stroke-width="1" stroke-opacity="0.25"/><line x1="604.5" y1="269.5" x2="604.5" y2="286.5" stroke="#3c4650" stroke-width="1" stroke-dasharray="1,1.6" stroke-opacity="0.35"/><line x1="618.5" y1="269.5" x2="618.5" y2="286.5" stroke="#3c4650" stroke-width="1" stroke-dasharray="1,1.6" stroke-opacity="0.35"/><line x1="633.5" y1="269.5" x2="633.5" y2="286.5" stroke="#3c4650" stroke-width="1" stroke-dasharray="1,1.6" stroke-opacity="0.35"/><rect x="589.5" y="292.5" width="58.0" height="117.0" fill="#f4f1b2"/><line x1="590.5" y1="293.5" x2="646.5" y2="293.5" stroke="#ffffff" stroke-width="1" stroke-opacity="0.25"/><line x1="590.5" y1="293.5" x2="590.5" y2="408.5" stroke="#ffffff" stroke-width="1" stroke-opacity="0.25"/><line x1="604.5" y1="292.5" x2="604.5" y2="409.5" stroke="#3c4650" stroke-width="1" stroke-dasharray="1,1.6" stroke-opacity="0.35"/><line x1="618.5" y1="292.5" x2="618.5" y2="409.5" stroke="#3c4650" stroke-width="1" stroke-dasharray="1,1.6" stroke-opacity="0.35"/><line x1="633.5" y1="292.5" x2="633.5" y2="409.5" stroke="#3c4650" stroke-width="1" stroke-dasharray="1,1.6" stroke-opacity="0.35"/><line x1="589.5" y1="331.5" x2="647.5" y2="331.5" stroke="#3c4650" stroke-width="1" stroke-dasharray="1,1.6" stroke-opacity="0.35"/><line x1="589.5" y1="369.5" x2="647.5" y2="369.5" stroke="#3c4650" stroke-width="1" stroke-dasharray="1,1.6" stroke-opacity="0.35"/><rect x="589.5" y="409.5" width="58.0" height="18.0" fill="#abf7d6"/><line x1="590.5" y1="410.5" x2="646.5" y2="410.5" stroke="#ffffff" stroke-width="1" stroke-opacity="0.25"/><line x1="590.5" y1="410.5" x2="590.5" y2="426.5" stroke="#ffffff" stroke-width="1" stroke-opacity="0.25"/><line x1="604.5" y1="409.5" x2="604.5" y2="427.5" stroke="#3c4650" stroke-width="1" stroke-dasharray="1,1.6" stroke-opacity="0.35"/><line x1="618.5" y1="409.5" x2="618.5" y2="427.5" stroke="#3c4650" stroke-width="1" stroke-dasharray="1,1.6" stroke-opacity="0.35"/><line x1="633.5" y1="409.5" x2="633.5" y2="427.5" stroke="#3c4650" stroke-width="1" stroke-dasharray="1,1.6" stroke-opacity="0.35"/><rect x="589.5" y="436.5" width="58.0" height="39.0" fill="#f4f1b2"/><line x1="590.5" y1="437.5" x2="646.5" y2="437.5" stroke="#ffffff" stroke-width="1" stroke-opacity="0.25"/><line x1="590.5" y1="437.5" x2="590.5" y2="474.5" stroke="#ffffff" stroke-width="1" stroke-opacity="0.25"/><line x1="604.5" y1="436.5" x2="604.5" y2="475.5" stroke="#3c4650" stroke-width="1" stroke-dasharray="1,1.6" stroke-opacity="0.35"/><line x1="618.5" y1="436.5" x2="618.5" y2="475.5" stroke="#3c4650" stroke-width="1" stroke-dasharray="1,1.6" stroke-opacity="0.35"/><line x1="633.5" y1="436.5" x2="633.5" y2="475.5" stroke="#3c4650" stroke-width="1" stroke-dasharray="1,1.6" stroke-opacity="0.35"/><line x1="589.5" y1="269.5" x2="647.5" y2="269.5" stroke="#4a4a4a" stroke-width="1" stroke-opacity="0.6"/><line x1="589.5" y1="286.5" x2="647.5" y2="286.5" stroke="#4a4a4a" stroke-width="1" stroke-opacity="0.6"/><line x1="589.5" y1="292.5" x2="647.5" y2="292.5" stroke="#4a4a4a" stroke-width="1" stroke-opacity="0.6"/><line x1="589.5" y1="409.5" x2="647.5" y2="409.5" stroke="#4a4a4a" stroke-width="1" stroke-opacity="0.6"/><line x1="589.5" y1="409.5" x2="647.5" y2="409.5" stroke="#4a4a4a" stroke-width="1" stroke-opacity="0.6"/><line x1="589.5" y1="427.5" x2="647.5" y2="427.5" stroke="#4a4a4a" stroke-width="1" stroke-opacity="0.6"/><line x1="589.5" y1="436.5" x2="647.5" y2="436.5" stroke="#4a4a4a" stroke-width="1" stroke-opacity="0.6"/><line x1="589.5" y1="475.5" x2="647.5" y2="475.5" stroke="#4a4a4a" stroke-width="1" stroke-opacity="0.6"/><rect x="590.0" y="277.4" width="2.5" height="1.2" fill="#4a4a9a" fill-opacity="0.55"/><rect x="617.0" y="284.9" width="3.0" height="1.4" fill="#4a4a9a" fill-opacity="0.5"/><rect x="590.0" y="350.4" width="2.5" height="1.2" fill="#4a4a9a" fill-opacity="0.55"/><rect x="617.0" y="407.9" width="3.0" height="1.4" fill="#4a4a9a" fill-opacity="0.5"/><rect x="590.0" y="417.9" width="2.5" height="1.2" fill="#4a4a9a" fill-opacity="0.55"/><rect x="617.0" y="425.9" width="3.0" height="1.4" fill="#4a4a9a" fill-opacity="0.5"/><rect x="590.0" y="455.4" width="2.5" height="1.2" fill="#4a4a9a" fill-opacity="0.55"/><rect x="617.0" y="473.9" width="3.0" height="1.4" fill="#4a4a9a" fill-opacity="0.5"/><line x1="589.5" y1="269.5" x2="589.5" y2="475.5" stroke="#4a4a4a" stroke-width="1" stroke-opacity="0.8"/><line x1="647.5" y1="269.5" x2="647.5" y2="475.5" stroke="#4a4a4a" stroke-width="1" stroke-opacity="0.8"/><rect x="90" y="31.5" width="1.6" height="5" fill="#3030ff" opacity="0.9"/><rect x="141" y="87" width="1.5" height="5" fill="#6a6aff" opacity="0.85"/><rect x="207" y="83" width="1.5" height="5" fill="#6a6aff" opacity="0.85"/><rect x="178" y="119" width="1.5" height="5" fill="#6a6aff" opacity="0.85"/><rect x="243" y="121" width="1.5" height="5" fill="#6a6aff" opacity="0.85"/><rect x="396" y="57" width="1.5" height="5" fill="#6a6aff" opacity="0.85"/><rect x="513" y="30" width="1.5" height="5" fill="#6a6aff" opacity="0.85"/><rect x="582" y="126" width="1.5" height="5" fill="#6a6aff" opacity="0.85"/><rect x="549" y="219" width="1.5" height="5" fill="#6a6aff" opacity="0.85"/><rect x="641" y="169" width="1.5" height="5" fill="#6a6aff" opacity="0.85"/><rect x="608" y="244" width="1.5" height="5" fill="#6a6aff" opacity="0.85"/><rect x="603.5" y="239" width="1.5" height="9.5" fill="#6a6aff" opacity="0.8"/><rect x="339.5" y="25.5" width="8" height="4" fill="#ff0000" stroke="#5a5aff" stroke-width="1" stroke-opacity="0.7"/><rect x="341.5" y="26" width="1" height="3" fill="#ffb8b8" fill-opacity="0.6"/><rect x="349.5" y="25.5" width="3" height="4" fill="#ff0000" stroke="#5a5aff" stroke-width="1" stroke-opacity="0.7"/><rect x="355" y="25" width="1.5" height="5" fill="#8080ff" opacity="0.85"/><rect x="550.5" y="25.5" width="13" height="4" fill="#ff0000" stroke="#5a5aff" stroke-width="1" stroke-opacity="0.7"/><rect x="559" y="26" width="1" height="3" fill="#ffb8b8" fill-opacity="0.6"/><rect x="561" y="26" width="1" height="3" fill="#ffb8b8" fill-opacity="0.6"/><rect x="568.0" y="25.5" width="57.0" height="4" fill="#ff0000" stroke="#5a5aff" stroke-width="1" stroke-opacity="0.7"/><rect x="570" y="26" width="1" height="3" fill="#ffb8b8" fill-opacity="0.6"/><rect x="572" y="26" width="1" height="3" fill="#ffb8b8" fill-opacity="0.6"/><rect x="612" y="26" width="1" height="3" fill="#ffb8b8" fill-opacity="0.6"/><rect x="615" y="26" width="1" height="3" fill="#ffb8b8" fill-opacity="0.6"/><rect x="619" y="26" width="1" height="3" fill="#ffb8b8" fill-opacity="0.6"/><rect x="627.5" y="25.5" width="2.5" height="4" fill="#ff0000" stroke="#5a5aff" stroke-width="1" stroke-opacity="0.7"/><rect x="563.0" y="144.5" width="12.5" height="4" fill="#ff0000" stroke="#5a5aff" stroke-width="1" stroke-opacity="0.7"/><rect x="569" y="145" width="1" height="3" fill="#ffb8b8" fill-opacity="0.6"/><rect x="601.5" y="169.5" width="8.5" height="4" fill="#ff0000" stroke="#5a5aff" stroke-width="1" stroke-opacity="0.7"/><rect x="603" y="170" width="1" height="3" fill="#ffb8b8" fill-opacity="0.6"/><rect x="607" y="170" width="1" height="3" fill="#ffb8b8" fill-opacity="0.6"/><rect x="630.5" y="169.5" width="7.5" height="4" fill="#ff0000" stroke="#5a5aff" stroke-width="1" stroke-opacity="0.7"/><rect x="613.0" y="219.5" width="21.5" height="4" fill="#ff0000" stroke="#5a5aff" stroke-width="1" stroke-opacity="0.7"/><rect x="616" y="220" width="1" height="3" fill="#ffb8b8" fill-opacity="0.6"/><rect x="620" y="220" width="1" height="3" fill="#ffb8b8" fill-opacity="0.6"/><rect x="624" y="220" width="1" height="3" fill="#ffb8b8" fill-opacity="0.6"/><rect x="628" y="220" width="1" height="3" fill="#ffb8b8" fill-opacity="0.6"/><rect x="637.5" y="219.5" width="3" height="4" fill="#ff0000" stroke="#5a5aff" stroke-width="1" stroke-opacity="0.7"/><rect x="643.5" y="219.5" width="2.5" height="4" fill="#ff0000" stroke="#5a5aff" stroke-width="1" stroke-opacity="0.7"/><rect x="507.5" y="244.5" width="4.5" height="4" fill="#ff0000" stroke="#5a5aff" stroke-width="1" stroke-opacity="0.7"/><rect x="521.5" y="244.5" width="2" height="4" fill="#e8e8ff" stroke="#7070ff" stroke-width="1"/><rect x="562.5" y="244.5" width="24" height="4" fill="#ff0000" stroke="#5a5aff" stroke-width="1" stroke-opacity="0.7"/><rect x="565" y="245" width="1" height="3" fill="#ffb8b8" fill-opacity="0.6"/><rect x="572" y="245" width="1" height="3" fill="#ffb8b8" fill-opacity="0.6"/><rect x="581" y="245" width="1" height="3" fill="#ffb8b8" fill-opacity="0.6"/><rect x="597.0" y="244.5" width="6.0" height="4" fill="#ff0000" stroke="#5a5aff" stroke-width="1" stroke-opacity="0.7"/><rect x="638.0" y="244.5" width="1.5" height="4" fill="#ff0000" stroke="#5a5aff" stroke-width="1" stroke-opacity="0.7"/><rect x="341" y="286.5" width="7.5" height="5.0" fill="#ff0000"/><rect x="343.5" y="286.5" width="1.0" height="5.0" fill="#ff8a8a"/><rect x="351" y="286.5" width="4" height="5.0" fill="#ff0000"/><rect x="357" y="286.5" width="2" height="5.0" fill="#ff0000"/><rect x="551" y="286.5" width="14.5" height="5.0" fill="#ff0000"/><rect x="555" y="286.5" width="1" height="5.0" fill="#ff8a8a"/><rect x="559" y="286.5" width="1" height="5.0" fill="#ff8a8a"/><rect x="568.5" y="286.5" width="63.5" height="5.0" fill="#ff0000"/><rect x="572" y="286.5" width="1" height="5.0" fill="#ff8a8a"/><rect x="575" y="286.5" width="1" height="5.0" fill="#ff8a8a"/><rect x="616" y="286.5" width="1" height="5.0" fill="#ff8a8a"/><rect x="620" y="286.5" width="1" height="5.0" fill="#ff8a8a"/><rect x="624" y="286.5" width="1" height="5.0" fill="#ff8a8a"/><rect x="628" y="286.5" width="1" height="5.0" fill="#ff8a8a"/><rect x="564" y="402.5" width="14" height="5.0" fill="#ff0000"/><rect x="568" y="402.5" width="1" height="5.0" fill="#ff8a8a"/><rect x="572" y="402.5" width="1" height="5.0" fill="#ff8a8a"/><rect x="602" y="426.5" width="9.5" height="5.0" fill="#ff0000"/><rect x="606" y="426.5" width="1" height="5.0" fill="#ff8a8a"/><rect x="631.5" y="426.5" width="8.5" height="5.0" fill="#ff0000"/><rect x="641" y="426.5" width="1.5" height="5" fill="#8080ff" opacity="0.85"/><rect x="614" y="475" width="34" height="5" fill="#ff0000"/><rect x="619" y="475" width="1" height="5" fill="#ff8a8a"/><rect x="623" y="475" width="1" height="5" fill="#ff8a8a"/><rect x="627" y="475" width="1" height="5" fill="#ff8a8a"/><rect x="631" y="475" width="1" height="5" fill="#ff8a8a"/><rect x="636" y="475" width="1" height="5" fill="#ff8a8a"/><rect x="641" y="475" width="1" height="5" fill="#ff8a8a"/><rect x="507.5" y="499" width="7.0" height="5" fill="#ff0000"/><rect x="564" y="499" width="23.5" height="5" fill="#ff0000"/><rect x="567" y="499" width="1" height="5" fill="#ff8a8a"/><rect x="570" y="499" width="1" height="5" fill="#ff8a8a"/><rect x="573" y="499" width="1" height="5" fill="#ff8a8a"/><rect x="576" y="499" width="1" height="5" fill="#ff8a8a"/><rect x="579" y="499" width="1" height="5" fill="#ff8a8a"/><rect x="582" y="499" width="1" height="5" fill="#ff8a8a"/><rect x="598.5" y="499" width="12.5" height="5" fill="#ff0000"/><rect x="603" y="499" width="1" height="5" fill="#ff8a8a"/><rect x="522" y="499" width="2" height="5" fill="#ff0000" opacity="0.85"/><rect x="638.5" y="499" width="3" height="5" fill="#ff0000" opacity="0.85"/><rect x="604.5" y="495" width="1.5" height="4" fill="#8080ff" opacity="0.85"/><rect x="92" y="293" width="1.6" height="5.5" fill="#ff2020" opacity="0.95"/><rect x="143" y="347.5" width="1.2" height="5" fill="#ff5050" opacity="0.75"/><rect x="208" y="344.5" width="1.2" height="5" fill="#ff5050" opacity="0.75"/><rect x="245" y="380" width="1.2" height="5" fill="#ff5050" opacity="0.75"/><rect x="397" y="318" width="1.2" height="5" fill="#ff5050" opacity="0.75"/><rect x="515" y="292" width="1.2" height="5" fill="#ff5050" opacity="0.75"/><rect x="583.5" y="385" width="1.2" height="5" fill="#ff5050" opacity="0.75"/><rect x="551" y="475" width="1.2" height="5" fill="#ff5050" opacity="0.75"/></svg></body></html>
